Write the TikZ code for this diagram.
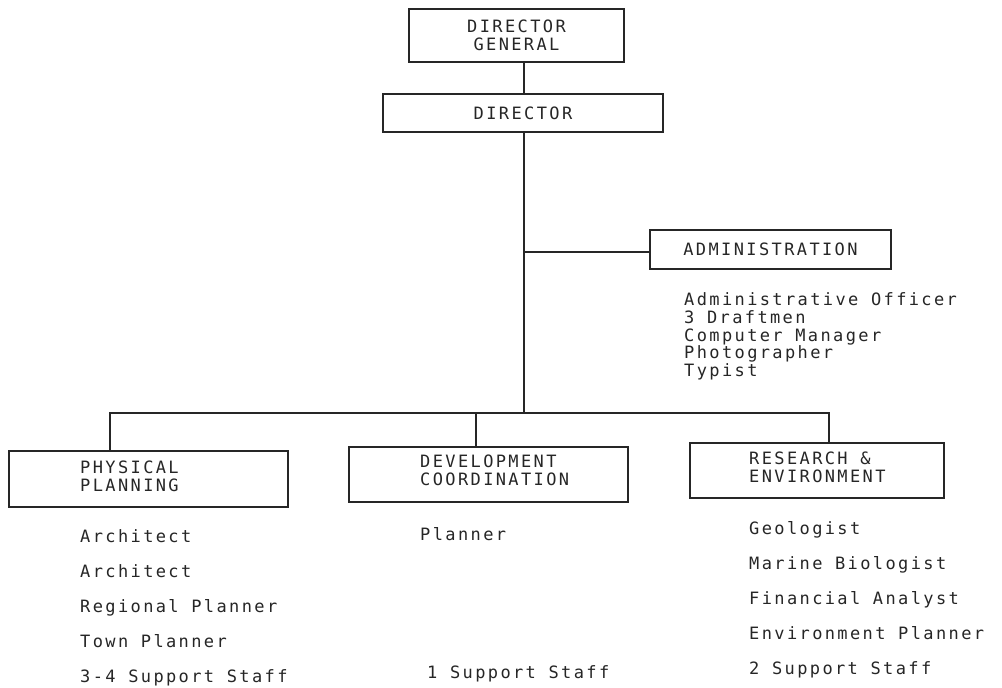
\documentclass[tikz,border=0pt]{standalone}
\usepackage{fontspec}
\newfontfamily\plotfont[LetterSpace=14]{DejaVu Sans Mono}
\definecolor{ink}{RGB}{38,38,38}
\begin{document}
\begin{tikzpicture}[x=1pt,y=-1pt,
  box/.style={draw=ink, line width=1.5pt, inner sep=0pt},
  title/.style={text=ink, inner sep=0pt, align=left, font=\plotfont\fontsize{17}{18}\selectfont},
  ctitle/.style={text=ink, align=center, font=\plotfont\fontsize{17}{18}\selectfont},
  listA/.style={text=ink, inner sep=0pt, align=left, anchor=west, font=\plotfont\fontsize{17}{17.75}\selectfont},
  listB/.style={text=ink, inner sep=0pt, align=left, anchor=west, font=\plotfont\fontsize{17}{35}\selectfont},
  wire/.style={draw=ink, line width=1.5pt}]
\useasboundingbox[fill=white] (0,0) rectangle (1002,688);

% boxes
\node[box, ctitle, minimum width=215, minimum height=53] (dg) at (516.5,35.5) {DIRECTOR\\GENERAL};
\node[box, ctitle, minimum width=280, minimum height=38] (dir) at (523,113) {DIRECTOR};
\node[box, ctitle, minimum width=241, minimum height=39] (adm) at (770.5,249.5) {ADMINISTRATION};
\node[box, minimum width=279, minimum height=56] (phys) at (148.5,479) {};
\node[box, minimum width=279, minimum height=55] (dev) at (488.5,474.5) {};
\node[box, minimum width=254, minimum height=55] (res) at (817,470.5) {};

% box titles
\node[title, anchor=west] (physt) at (80,476) {PHYSICAL\\PLANNING};
\node[title, anchor=west] (devt) at (420,470.6) {DEVELOPMENT\\COORDINATION};
\node[title, anchor=west] (rest) at (749,467) {RESEARCH \&\\ENVIRONMENT};

% connector points
\coordinate (spine) at (524,252);
\coordinate (bus) at (524,413);
\coordinate (pl) at (110,413);
\coordinate (dl) at (476,413);
\coordinate (rl) at (829,413);

% connectors
\draw[wire] (dg.south -| spine) -- (dir.north -| spine);
\draw[wire] (dir.south -| spine) -- (bus);
\draw[wire] (spine) -- (adm.west |- spine);
\draw[wire] (phys.north -| pl) -- (pl) -- (rl) -- (res.north -| rl);
\draw[wire] (dl) -- (dev.north -| dl);

% staff lists
\node[listA] (adml) at (684,336.5) {Administrative Officer\\3 Draftmen\\Computer Manager\\Photographer\\Typist};
\node[listB] (physl) at (80,608) {Architect\\Architect\\Regional Planner\\Town Planner\\3-4 Support Staff};
\node[listB] (resl) at (749,600) {Geologist\\Marine Biologist\\Financial Analyst\\Environment Planner\\2 Support Staff};
\node[listA] (devl1) at (420,534) {Planner};
\node[listA] (devl2) at (427,673.5) {1 Support Staff};
\end{tikzpicture}
\end{document}
